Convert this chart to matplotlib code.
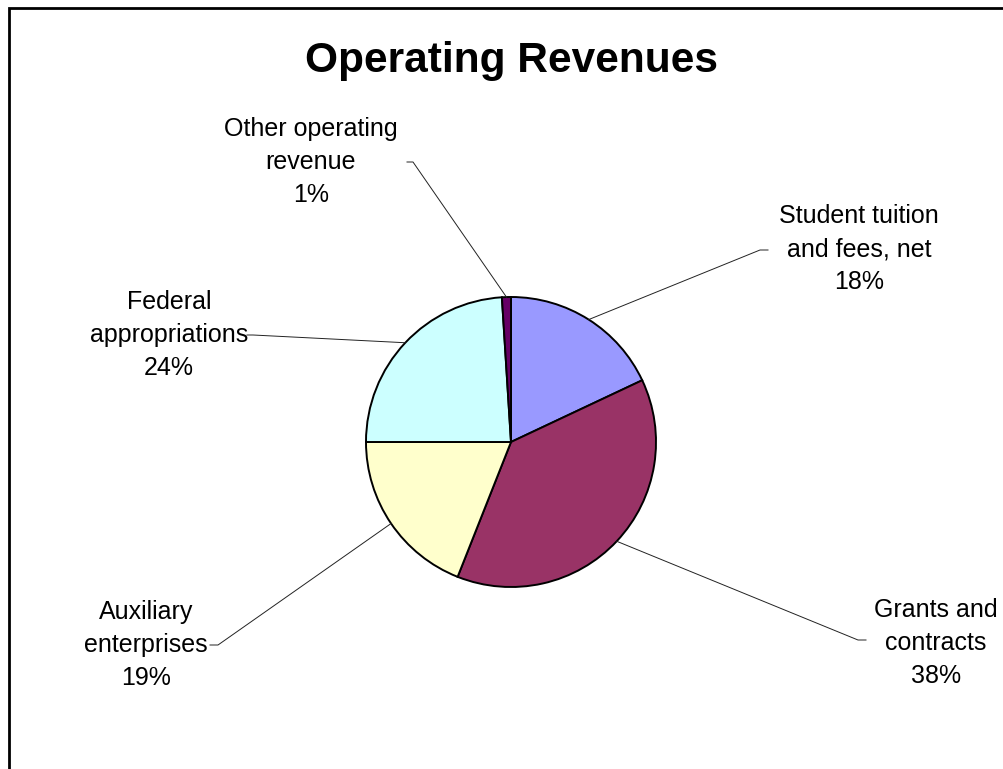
import numpy as np
import matplotlib.pyplot as plt
from matplotlib.patches import Rectangle

plt.rcParams['font.family'] = ['Liberation Sans', 'DejaVu Sans']

labels = ["Student tuition\nand fees, net", "Grants and\ncontracts", "Auxiliary\nenterprises",
          "Federal\nappropriations", "Other operating\nrevenue"]
shares = [18, 38, 19, 24, 1]
colors = ['#9999FF', '#993366', '#FFFFCC', '#CCFFFF', '#660066']

# label layout in pixel space (x, y from top): text centre, leader tick start/end
text_pos = [(859, 249), (936, 643), (146, 645), (169, 335), (311, 162)]
ticks = [(768, 760, 250), (866, 858, 640), (210, 218, 645), (247, 253, 335), (407, 413, 162)]

W, H = 1004, 769
cx, cy, r = 511, H - 442, 145

fig = plt.figure(figsize=(W / 100, H / 100), dpi=100)
ax = fig.add_axes([0, 0, 1, 1])
wedges, _ = ax.pie(shares, colors=colors, startangle=90, counterclock=False,
                   center=(cx, cy), radius=r,
                   wedgeprops=dict(edgecolor='black', linewidth=1.4))
ax.set_xlim(0, W)
ax.set_ylim(0, H)
ax.set_aspect('equal')
ax.axis('off')

total = sum(shares)
start = 90.0
for lab, val, (tx, ty), (t0, t1, tyy) in zip(labels, shares, text_pos, ticks):
    mid = np.deg2rad(start - val / total * 360 / 2)
    start -= val / total * 360
    ex, ey = cx + r * np.cos(mid), cy + r * np.sin(mid)
    ax.plot([t0, t1, ex], [H - tyy, H - tyy, ey], color='#222222', lw=0.7)
    ax.text(tx, H - ty, f"{lab}\n{val}%", ha='center', va='center',
            multialignment='center', fontsize=18, linespacing=1.45)

ax.text(512, H - 61, "Operating Revenues", ha='center', va='center',
        fontsize=30.5, fontweight='bold')

ax.add_patch(Rectangle((9, -50), 1100, H - 8 + 50, fill=False, edgecolor='black', lw=2))

fig.savefig('out.png', dpi=100)
